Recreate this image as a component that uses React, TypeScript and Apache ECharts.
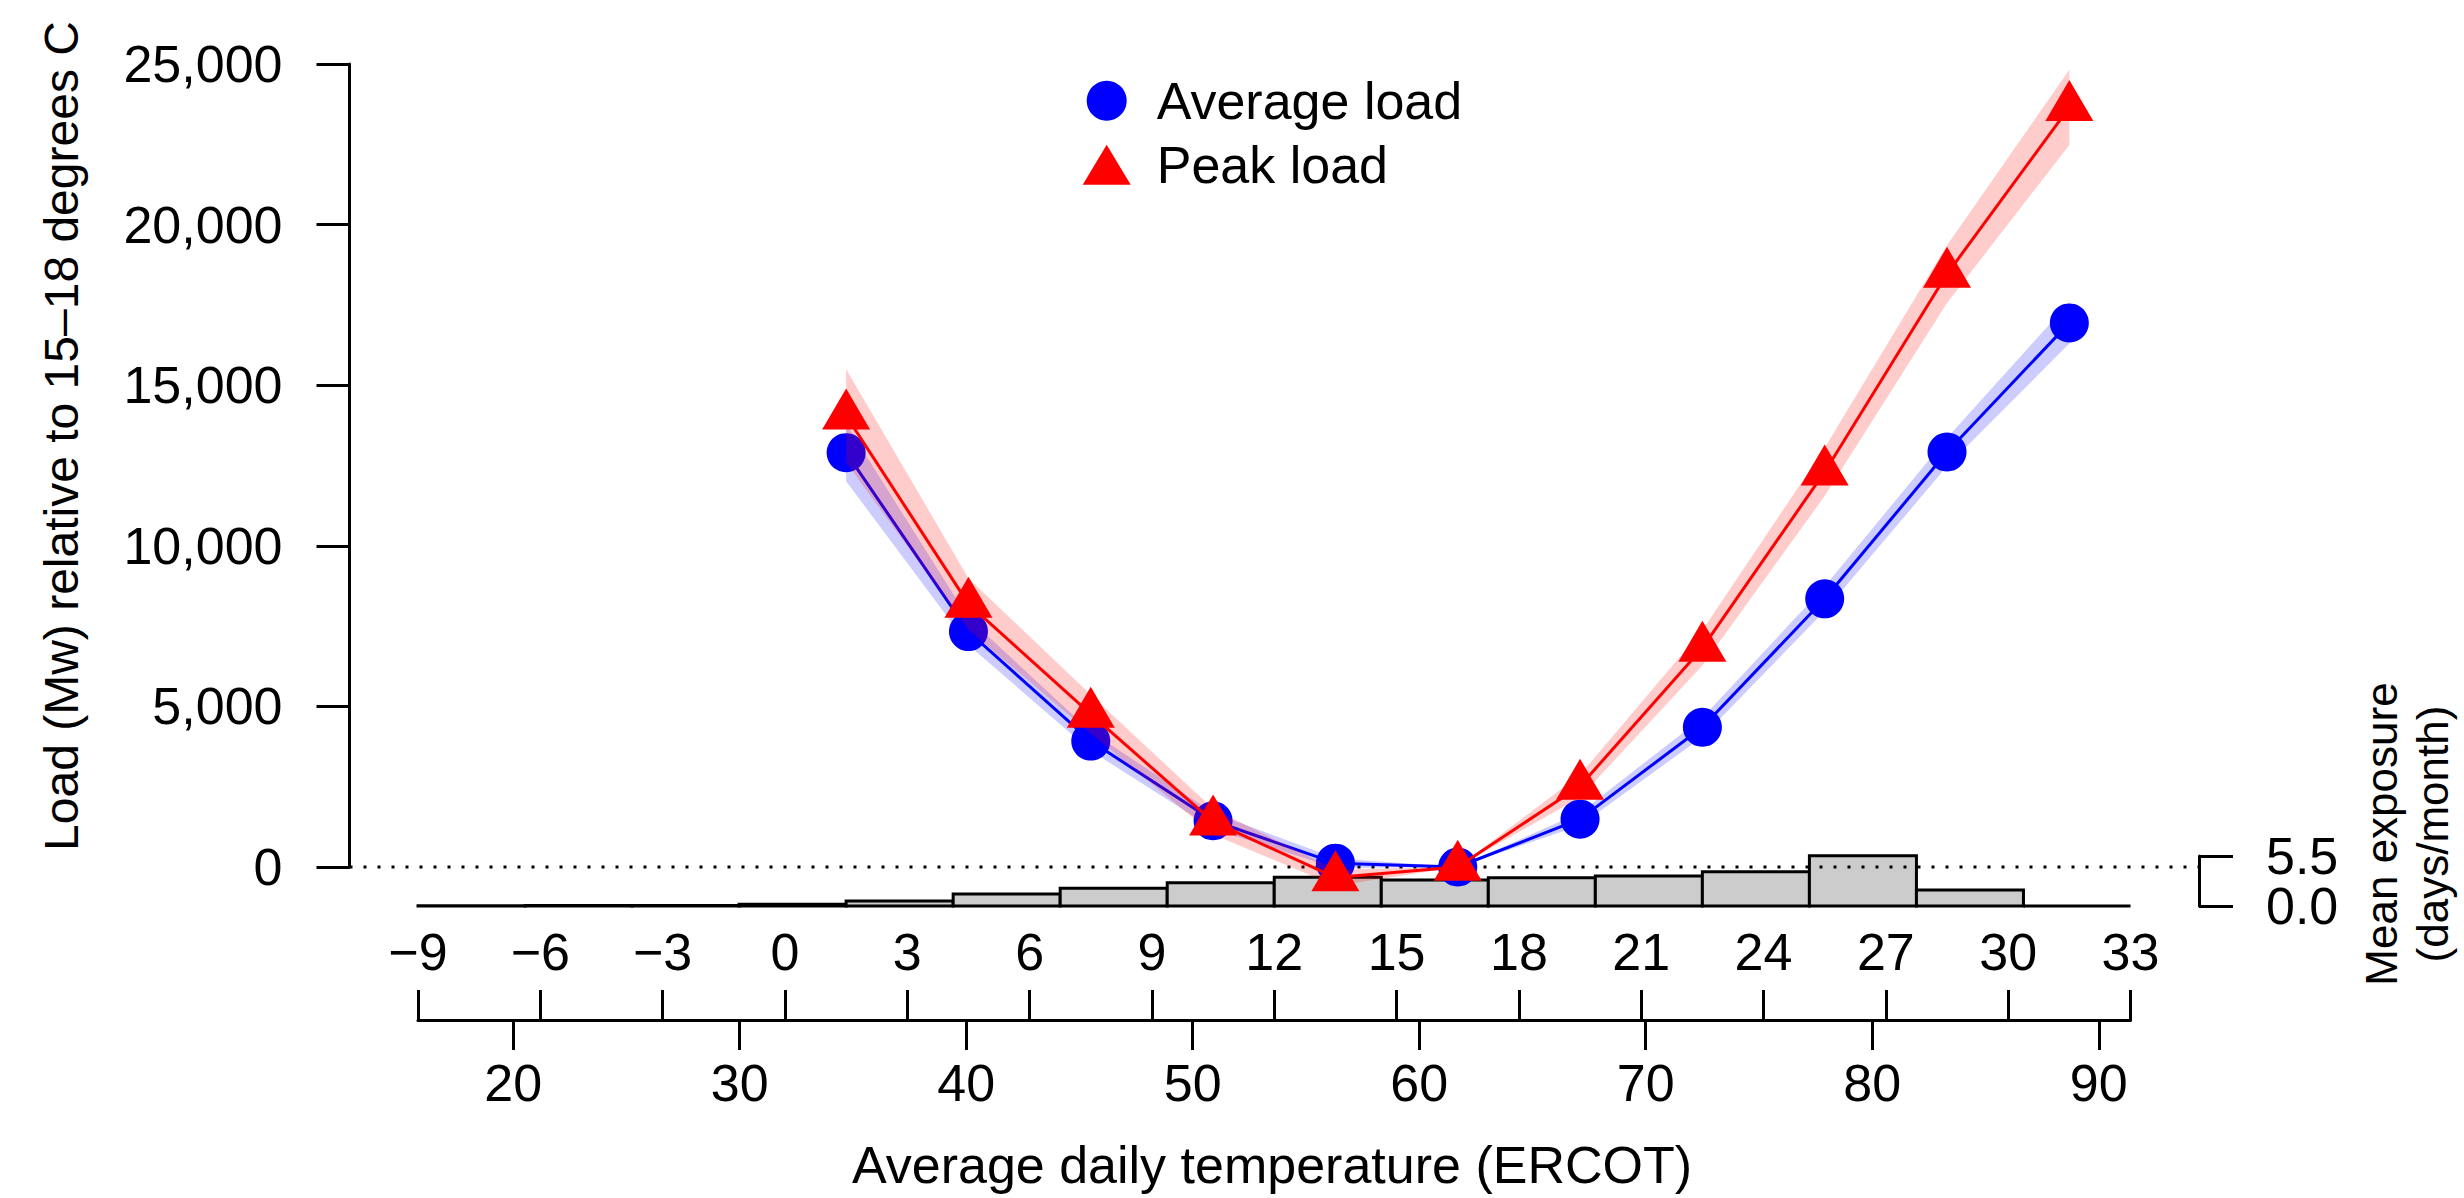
import React, { useEffect, useRef } from "react";
import * as echarts from "echarts";

// ---- data ----
const tempC = [1.5, 4.5, 7.5, 10.5, 13.5, 16.5, 19.5, 22.5, 25.5, 28.5, 31.5];

const avgLoad = [12900, 7330, 3920, 1440, 120, 0, 1490, 4350, 8350, 12920, 16940];
const avgLow = [12010, 6910, 3620, 1190, -30, 0, 1290, 4050, 7970, 12480, 16300];
const avgHigh = [13790, 7750, 4220, 1690, 270, 0, 1690, 4650, 8730, 13360, 17580];

const peakLoad = [14050, 8190, 4760, 1410, -330, 0, 2520, 6820, 12300, 18460, 23650];
const peakLow = [12600, 7390, 4160, 1010, -580, 0, 2170, 6270, 11550, 17560, 22480];
const peakHigh = [15500, 8990, 5360, 1810, -80, 0, 2870, 7370, 13050, 19360, 24820];

const histEdges = [-9, -6.375, -3.75, -1.125, 1.5, 4.125, 6.75, 9.375, 12, 14.625, 17.25, 19.875, 22.5, 25.125, 27.75, 30.375, 33];
const exposure = [0.02, 0.06, 0.05, 0.2, 0.55, 1.32, 1.94, 2.57, 3.15, 2.86, 3.12, 3.3, 3.78, 5.54, 1.76, 0];

const celsiusRange = [-9, 33];
const celsiusStep = 3;
const fahrenheitRange = [20, 90];
const fahrenheitStep = 10;
const loadRange = [0, 25000];
const loadStep = 5000;
const exposureRange = [0, 5.5];

const seriesNames = ["Average load", "Peak load"];
const yTitle = "Load (Mw) relative to 15\u201318 degrees C";
const xTitle = "Average daily temperature (ERCOT)";
const rightTitle = "Mean exposure\n(days/month)";

// ---- layout ----
const W = 2464;
const H = 1198;
const PLOT_L = 349.5;
const PLOT_R = 2199;
const XLIM = [-10.68, 34.68];
const FONT = "'Liberation Sans', Arial, Helvetica, sans-serif";
const FS = 52;

const pxC = (c: number) => PLOT_L + ((c - XLIM[0]) / (XLIM[1] - XLIM[0])) * (PLOT_R - PLOT_L);
const fToC = (f: number) => ((f - 32) * 5) / 9;
const minus = (v: number) => (v < 0 ? "\u2212" + Math.abs(v) : String(v));

function bandRenderer(low: number[], high: number[], fill: string) {
  return (params: any, api: any) => {
    if (params.dataIndex !== 0) return { type: "group", children: [] };
    const pts: number[][] = [];
    for (let i = 0; i < tempC.length; i++) pts.push(api.coord([tempC[i], high[i]]));
    for (let i = tempC.length - 1; i >= 0; i--) pts.push(api.coord([tempC[i], low[i]]));
    return { type: "polygon", shape: { points: pts }, style: { fill } };
  };
}

export default function App() {
  const ref = useRef<HTMLDivElement>(null);
  useEffect(() => {
    if (!ref.current) return;
    const chart = echarts.init(ref.current, undefined, { renderer: "svg" });
    const cL = pxC(celsiusRange[0]);
    const cR = pxC(celsiusRange[1]);
    const fL = pxC(fToC(fahrenheitRange[0]));
    const fR = pxC(fToC(fahrenheitRange[1]));
    const axisBlack = { color: "#000", width: 3 };
    const exposureLabel = {
      fontSize: FS, lineHeight: 40, fontFamily: FONT, color: "#000", margin: 67,
      formatter: (v: number) => v.toFixed(1),
    };

    const option: any = {
      animation: false,
      backgroundColor: "#ffffff",
      textStyle: { fontFamily: FONT, color: "#000" },
      grid: [
        { left: PLOT_L, width: PLOT_R - PLOT_L, top: 64, height: 803 },
        { left: PLOT_L, width: PLOT_R - PLOT_L, top: 856, height: 50 },
        { left: cL, width: cR - cL, top: 990, height: 30 },
        { left: fL, width: fR - fL, top: 1000, height: 20 },
      ],
      xAxis: [
        { gridIndex: 0, type: "value", min: XLIM[0], max: XLIM[1], show: false, axisLine: { onZero: false } },
        { gridIndex: 1, type: "value", min: XLIM[0], max: XLIM[1], show: false, axisLine: { onZero: false } },
        {
          gridIndex: 2, type: "value", position: "bottom",
          min: celsiusRange[0], max: celsiusRange[1], interval: celsiusStep,
          axisLine: { show: true, onZero: false, lineStyle: axisBlack },
          axisTick: { show: true, inside: true, length: 30, lineStyle: axisBlack },
          axisLabel: { show: false }, splitLine: { show: false },
        },
        {
          gridIndex: 2, type: "value", position: "top",
          min: celsiusRange[0], max: celsiusRange[1], interval: celsiusStep,
          axisLine: { show: false, onZero: false }, axisTick: { show: false },
          axisLabel: { show: true, fontSize: FS, fontFamily: FONT, color: "#000", margin: 12, formatter: minus, showMinLabel: true, showMaxLabel: true },
          splitLine: { show: false },
        },
        {
          gridIndex: 3, type: "value", position: "bottom",
          min: fahrenheitRange[0], max: fahrenheitRange[1], interval: fahrenheitStep,
          axisLine: { show: false, onZero: false },
          axisTick: { show: true, length: 30, lineStyle: axisBlack },
          axisLabel: { show: true, fontSize: FS, fontFamily: FONT, color: "#000", margin: 37, showMinLabel: true, showMaxLabel: true },
          splitLine: { show: false },
        },
      ],
      yAxis: [
        {
          gridIndex: 0, type: "value", position: "left", min: loadRange[0], max: loadRange[1], interval: loadStep,
          axisLine: { show: true, onZero: false, lineStyle: axisBlack },
          axisTick: { show: true, length: 33, lineStyle: axisBlack },
          axisLabel: { fontSize: FS, fontFamily: FONT, color: "#000", margin: 67, formatter: (v: number) => v.toLocaleString("en-US") },
          splitLine: { show: false },
        },
        {
          // exposure axis: line, top tick and "5.5"
          gridIndex: 1, type: "value", position: "right", offset: 0,
          min: exposureRange[0], max: exposureRange[1], interval: exposureRange[1],
          axisLine: { show: true, onZero: false, lineStyle: axisBlack },
          axisTick: { show: true, length: 34, lineStyle: axisBlack },
          axisLabel: { ...exposureLabel, showMinLabel: false, showMaxLabel: true },
          splitLine: { show: false },
        },
        { gridIndex: 2, type: "value", min: 0, max: 1, show: false, axisLine: { onZero: false } },
        { gridIndex: 3, type: "value", min: 0, max: 1, show: false, axisLine: { onZero: false } },
        {
          // exposure axis: bottom tick and "0.0"
          gridIndex: 1, type: "value", position: "right", offset: 0,
          min: exposureRange[0], max: exposureRange[1], interval: exposureRange[1],
          axisLine: { show: false, onZero: false },
          axisTick: { show: true, length: 34, lineStyle: axisBlack },
          axisLabel: { ...exposureLabel, showMinLabel: true, showMaxLabel: false },
          splitLine: { show: false },
        },
      ],
      legend: {
        orient: "vertical",
        left: 1082.7,
        top: 74.7,
        padding: 0,
        itemWidth: 48,
        itemHeight: 40,
        itemGap: 12,
        symbolKeepAspect: false,
        selectedMode: false,
        textStyle: { fontSize: FS, fontFamily: FONT, color: "#000", padding: [0, 0, 0, 21] },
        data: [
          { name: seriesNames[0], icon: "circle" },
          { name: seriesNames[1], icon: "triangle" },
        ],
      },
      series: [
        {
          type: "custom", name: "exposure", xAxisIndex: 1, yAxisIndex: 1, z: 1, clip: false,
          data: exposure.map((v, i) => [histEdges[i], histEdges[i + 1], v]),
          encode: { x: [0, 1], y: 2 },
          renderItem: (params: any, api: any) => {
            const p0 = api.coord([api.value(0), api.value(2)]);
            const p1 = api.coord([api.value(1), 0]);
            return {
              type: "rect",
              shape: { x: p0[0], y: p0[1], width: p1[0] - p0[0], height: p1[1] - p0[1] },
              style: { fill: "#cccccc", stroke: "#000", lineWidth: 3 },
            };
          },
        },
        {
          type: "line", name: "zero", xAxisIndex: 0, yAxisIndex: 0, z: 1, clip: false,
          data: [[XLIM[0], 0], [XLIM[1], 0]], symbol: "none",
          lineStyle: { color: "#000", width: 3, type: [3, 11] },
        },
        {
          type: "custom", name: "avgBand", xAxisIndex: 0, yAxisIndex: 0, z: 2, clip: false,
          data: tempC.map((t, i) => [t, avgLow[i], avgHigh[i]]),
          encode: { x: 0, y: [1, 2] },
          renderItem: bandRenderer(avgLow, avgHigh, "rgba(0,0,255,0.2)"),
        },
        {
          type: "line", name: seriesNames[0], xAxisIndex: 0, yAxisIndex: 0, z: 3, clip: false,
          data: tempC.map((t, i) => [t, avgLoad[i]]),
          symbol: "circle", symbolSize: 39,
          itemStyle: { color: "#0000ff" },
          lineStyle: { color: "#0000ff", width: 3 },
        },
        {
          type: "custom", name: "peakBand", xAxisIndex: 0, yAxisIndex: 0, z: 4, clip: false,
          data: tempC.map((t, i) => [t, peakLow[i], peakHigh[i]]),
          encode: { x: 0, y: [1, 2] },
          renderItem: bandRenderer(peakLow, peakHigh, "rgba(255,0,0,0.2)"),
        },
        {
          type: "line", name: seriesNames[1], xAxisIndex: 0, yAxisIndex: 0, z: 5, clip: false,
          data: tempC.map((t, i) => [t, peakLoad[i]]),
          symbol: "triangle", symbolSize: [48, 41], symbolOffset: [0, -6.8],
          itemStyle: { color: "#ff0000" },
          lineStyle: { color: "#ff0000", width: 3 },
        },
      ],
      graphic: [
        {
          type: "text", x: 61, y: 436, rotation: Math.PI / 2,
          style: { text: yTitle, fontSize: 48, fontFamily: FONT, fill: "#000", align: "center", verticalAlign: "middle" },
        },
        {
          type: "text", x: 1272, y: 1165,
          style: { text: xTitle, fontSize: FS, fontFamily: FONT, fill: "#000", align: "center", verticalAlign: "middle" },
        },
        {
          type: "text", x: 2407, y: 834, rotation: Math.PI / 2,
          style: { text: rightTitle, fontSize: 44, lineHeight: 51, fontFamily: FONT, fill: "#000", align: "center", verticalAlign: "middle" },
        },
      ],
    };
    chart.setOption(option);
    return () => chart.dispose();
  }, []);
  return <div ref={ref} style={{ position: "fixed", left: 0, top: 0, width: W, height: H }} />;
}
